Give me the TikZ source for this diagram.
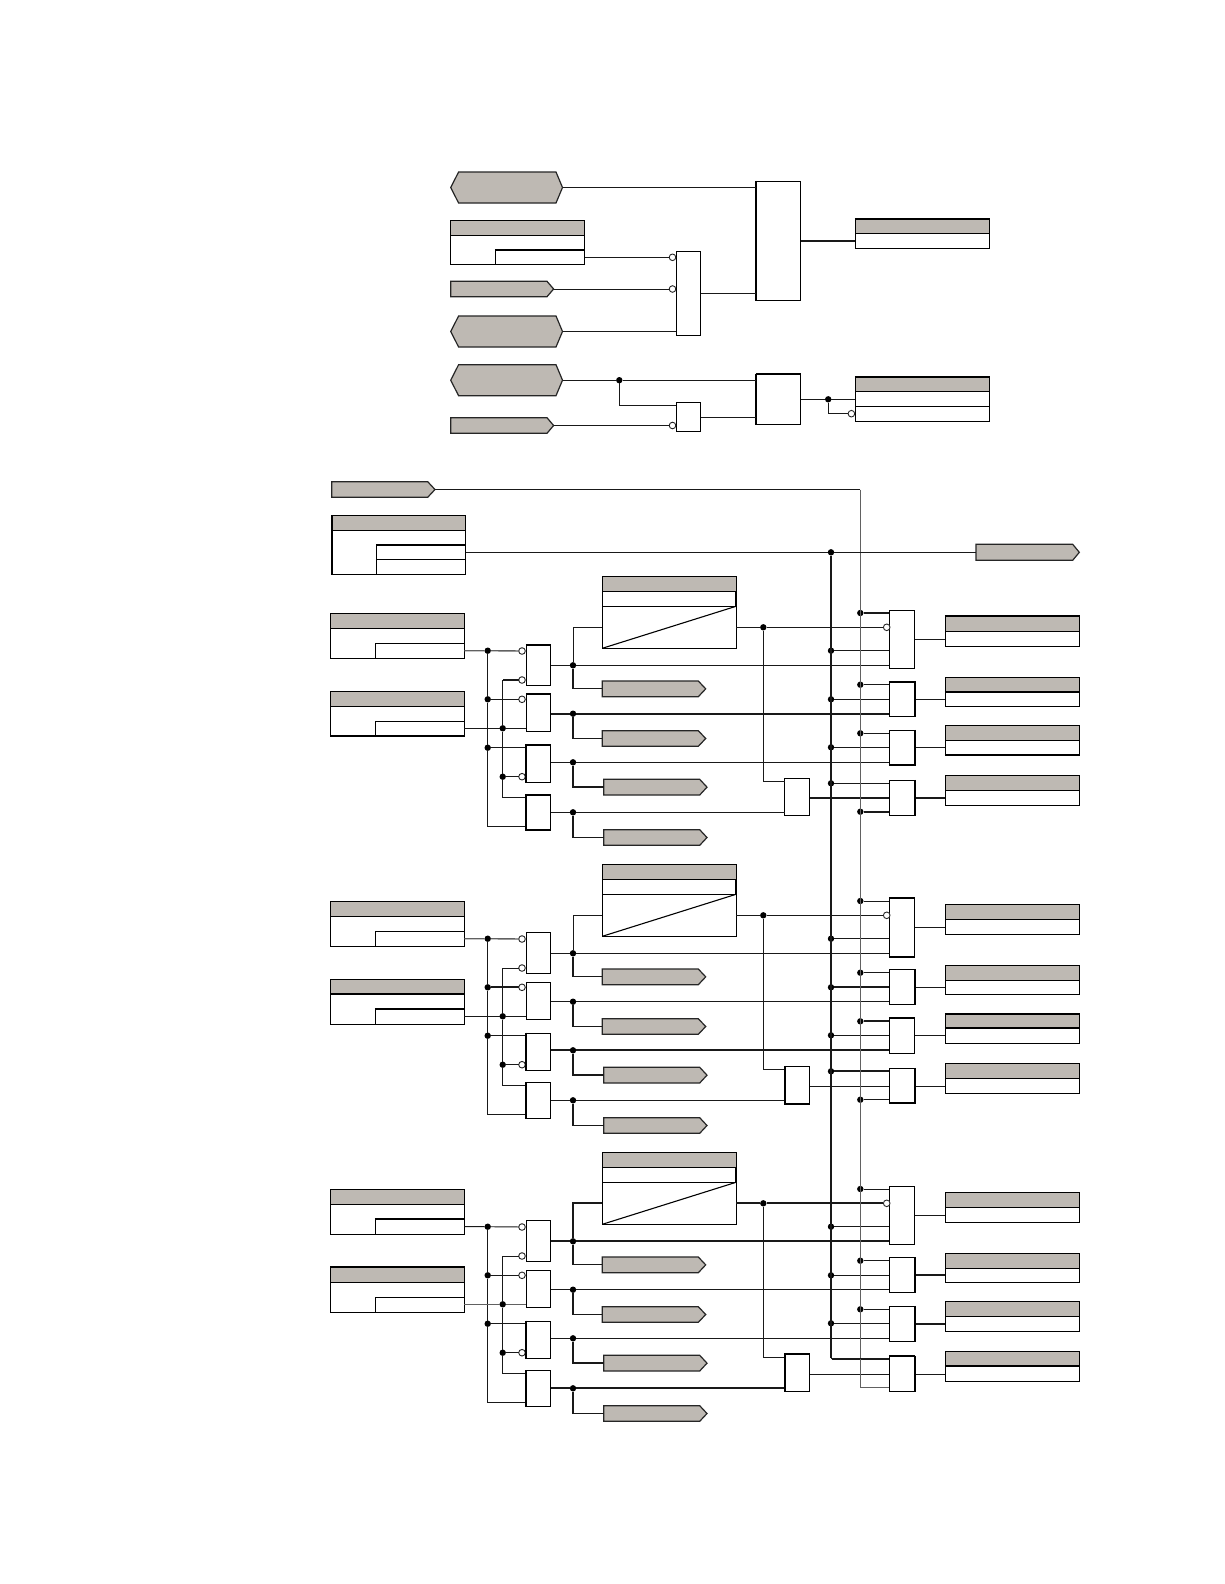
\documentclass[tikz,border=0pt]{standalone}
\usetikzlibrary{calc}
\definecolor{hdr}{HTML}{BEB9B3}
\tikzset{
  wire/.style={line width=0.95pt,draw=black!90},
  thickw/.style={line width=1.9pt,draw=black!90},
  midw/.style={line width=1.4pt,draw=black!90},
  grayw/.style={line width=1.4pt,draw=black!62},
  gbox/.style={draw=black,fill=white,line width=0.9pt,inner sep=0pt,outer sep=0pt},
  ghost/.style={inner sep=0pt,outer sep=0pt},
  edgeT/.style={line width=1.9pt,draw=black,line cap=butt,shorten <=-0.45pt,shorten >=-0.45pt},
  dot/.style={circle,fill=black,draw=none,inner sep=0pt,outer sep=0pt,minimum size=6.4pt},
  bub/.style={circle,fill=white,draw=black!85,line width=0.9pt,inner sep=0pt,outer sep=0pt,minimum size=6.6pt},
  tagshape/.style={fill=hdr,draw=black!85,line width=1.2pt,line join=miter},
  dotLast/.style={dot},
  sT1/.style={},sT2/.style={},sB2/.style={},sD1b/.style={},
  sE1/.style={},sE2/.style={},sE3/.style={},sE4/.style={},
  sV1/.style={midw},sV2/.style={midw},sV3/.style={midw},sV4/.style={midw},
  sRin/.style={},sRout/.style={},
  sO1/.style={},sO2/.style={},sO3/.style={},sO4/.style={},
  sA1/.style={},sA2/.style={},sA3/.style={},sA4/.style={},
  sN1/.style={},sN2/.style={},sN3/.style={},sN4/.style={},sMout/.style={}
}
% rectangle node from two corners
\newcommand\gatex[5]{\node[gbox,minimum width={(#4-#2)*1pt},minimum height={(#5-#3)*1pt}] (#1) at ({(#2+#4)/2},{(#3+#5)/2}) {};}
% table: grey header over white body
\newcommand\tblx[6]{%
  \node[gbox,minimum width={(#3-#2)*1pt},minimum height={(#6-#4)*1pt}] (#1) at ({(#2+#3)/2},{(#4+#6)/2}) {};
  \fill[hdr] (#2,#4) rectangle (#3,#5);
  \draw[line width=0.9pt,black] (#2,#4) rectangle (#3,#6);
  \coordinate (#1 ml) at (#2,#5);
  \coordinate (#1 mr) at (#3,#5);
  \draw[line width=0.9pt,black] (#1 ml) -- (#1 mr);}
% sub-box in lower right of an input table
\newcommand\subbox[5]{\coordinate (#1 il) at (#2,#3); \coordinate (#1 ir) at (#4,#3);
  \draw[line width=0.9pt,black] (#1 il) -- (#1 ir) -- (#4,#5) -- (#2,#5) -- cycle;}
% flag with a point on the right
\newcommand\penta[6]{%
  \node[ghost,minimum width={(#4-#2)*1pt},minimum height={(#6-#5)*1pt}] (#1) at ({(#2+#4)/2},{(#5+#6)/2}) {};
  \draw[tagshape] (#2,#5) -- (#3,#5) -- (#4,{(#5+#6)/2}) -- (#3,#6) -- (#2,#6) -- cycle;}
% flag with a point on each side
\newcommand\hexa[7]{%
  \node[ghost,minimum width={(#5-#2)*1pt},minimum height={(#7-#6)*1pt}] (#1) at ({(#2+#5)/2},{(#6+#7)/2}) {};
  \draw[tagshape] (#2,{(#6+#7)/2}) -- (#3,#6) -- (#4,#6) -- (#5,{(#6+#7)/2}) -- (#4,#7) -- (#3,#7) -- cycle;}
\newcommand\tk[2]{\draw[edgeT] (#1) -- (#2);}
\newcommand\grpblock[4]{%
\begin{scope}[shift={(0,#1)}]
\def\gp{#2}
\tikzset{#3}
% inputs
\tblx{\gp t1}{330.7}{464.3}{613.7}{628.3}{658.3}
\subbox{\gp t1}{375.3}{643.3}{464.3}{658.3}
\tblx{\gp t2}{330.7}{464.3}{691.3}{706.3}{736}
\subbox{\gp t2}{375.3}{721.3}{464.3}{736}
% first gates
\gatex{\gp g1}{526.3}{644.7}{550.7}{685.3}
\gatex{\gp g2}{526.3}{694}{550.7}{731.3}
\gatex{\gp g3}{525.7}{745}{550.7}{782.3}
\gatex{\gp g4}{525.7}{794.7}{550.7}{830.3}
% ramp block
\tblx{\gp ramp}{602.3}{736}{576.7}{591.7}{648.3}
\coordinate (\gp rl) at (602.3,606.3);
\coordinate (\gp rr) at (736,606.3);
\coordinate (\gp rq) at (736,591.7);
\coordinate (\gp rb) at (602.3,648.3);
\draw[line width=0.9pt,black] (\gp rl) -- (\gp rr);
\draw[line width=1.1pt,black] (\gp rb) -- (\gp rr);
\draw[line width=1.7pt,black] (\gp rq) -- (\gp rr);
% output flags
\penta{\gp p1}{602.3}{698.3}{705.7}{681}{696.7}
\penta{\gp p2}{602.3}{698.3}{705.7}{730.7}{746.3}
\penta{\gp p3}{603.7}{699.7}{707}{779.3}{795}
\penta{\gp p4}{603.7}{699.7}{707}{829.7}{845.3}
% right-hand gates
\gatex{\gp m}{784.7}{778.3}{809.7}{815.7}
\gatex{\gp r1}{889.3}{610.3}{914.7}{668.7}
\gatex{\gp r2}{889.3}{681.7}{914.7}{716.7}
\gatex{\gp r3}{889.3}{730.3}{914.7}{765.3}
\gatex{\gp r4}{889.3}{780.3}{914.7}{815.3}
% output tables
\tblx{\gp o1}{945.3}{1079.7}{616.3}{631.3}{646.3}
\tblx{\gp o2}{945.3}{1079.7}{677.3}{692}{706.3}
\tblx{\gp o3}{945.3}{1079.7}{725.7}{740.3}{755.3}
\tblx{\gp o4}{945.3}{1079.7}{775.3}{790.3}{805.3}
% junctions
\node[dot] (\gp d1a) at (487.7,650.7) {};
\node[dot] (\gp d1b) at (487.7,699.3) {};
\node[dot] (\gp d1c) at (487.7,747.7) {};
\node[dot] (\gp d2a) at (502.7,728.3) {};
\node[dot] (\gp d2b) at (502.7,776.7) {};
\node[bub] (\gp b1) at (522,651) {};
\node[bub] (\gp b2) at (522,680) {};
\node[bub] (\gp b3) at (522,699.3) {};
\node[bub] (\gp b4) at (522,776.7) {};
\node[bub] (\gp b5) at (886.7,627.3) {};
\coordinate (\gp c1) at (525.7,826.7);
\coordinate (\gp c2) at (525.7,797.3);
\node[dot] (\gp e1) at (573,665.3) {};
\node[dot] (\gp e2) at (573,713.7) {};
\node[dot] (\gp e3) at (573,762.3) {};
\node[dot] (\gp e4) at (573,812.3) {};
\coordinate (\gp cr) at (573,627.3);
\node[dot] (\gp f) at (763.3,627.3) {};
\coordinate (\gp fm) at (763.3,781.3);
\coordinate (\gp hm) at (809.7,798);
\node[dot] (\gp a1) at (831,650.7) {};
\node[dot] (\gp a2) at (831,699.3) {};
\node[dot] (\gp a3) at (831,747.3) {};
\node[dotLast] (\gp a4) at (831,783.3) {};
\node[dot] (\gp n1) at (860.3,613) {};
\node[dot] (\gp n2) at (860.3,684.7) {};
\node[dot] (\gp n3) at (860.3,733.3) {};
\node[dotLast] (\gp n4) at (860.3,811.7) {};
% inputs to first gates
\draw[wire,sT1] (\gp d1a -| \gp t1.east) -- (\gp d1a) -- (\gp b1);
\draw[wire] (\gp d1a) -- (\gp d1b) -- (\gp d1c) -- (\gp c1 -| \gp d1a) -- (\gp c1);
\draw[wire,sB2] (\gp b2) -- (\gp b2 -| \gp d2a);
\draw[wire] (\gp b2 -| \gp d2a) -- (\gp d2a) -- (\gp d2b) -- (\gp c2 -| \gp d2a) -- (\gp c2);
\draw[wire,sD1b] (\gp d1b) -- (\gp b3);
\draw[wire] (\gp d1c) -- (\gp d1c -| \gp g3.west);
\draw[wire,sT2] (\gp d2a -| \gp t2.east) -- (\gp d2a) -- (\gp d2a -| \gp g2.west);
\draw[wire] (\gp d2b) -- (\gp b4);
% gate outputs across to the right-hand gates
\draw[wire,sE1] (\gp e1 -| \gp g1.east) -- (\gp e1) -- (\gp e1 -| \gp r1.west);
\draw[wire,sE2] (\gp e2 -| \gp g2.east) -- (\gp e2) -- (\gp e2 -| \gp r2.west);
\draw[wire,sE3] (\gp e3 -| \gp g3.east) -- (\gp e3) -- (\gp e3 -| \gp r3.west);
\draw[wire,sE4] (\gp e4 -| \gp g4.east) -- (\gp e4) -- (\gp e4 -| \gp m.west);
% branches to ramp and flags
\draw[wire,sRin] (\gp cr -| \gp ramp.west) -- (\gp cr) -- (\gp e1);
\draw[wire,sV1] (\gp e1) -- (\gp e1 |- \gp p1.west);
\draw[wire] (\gp e1 |- \gp p1.west) -- (\gp p1.west);
\draw[wire,sV2] (\gp e2) -- (\gp e2 |- \gp p2.west) -- (\gp p2.west);
\draw[wire,sV3] (\gp e3) -- (\gp e3 |- \gp p3.west) -- (\gp p3.west);
\draw[wire,sV4] (\gp e4) -- (\gp e4 |- \gp p4.west) -- (\gp p4.west);
% ramp output
\draw[wire,sRout] (\gp f -| \gp ramp.east) -- (\gp f) -- (\gp b5);
\draw[wire] (\gp f) -- (\gp fm) -- (\gp fm -| \gp m.west);
\draw[wire,sMout] (\gp hm) -- (\gp hm -| \gp r4.west);
% bus taps
\draw[wire,sA1] (\gp a1) -- (\gp a1 -| \gp r1.west);
\draw[wire,sA2] (\gp a2) -- (\gp a2 -| \gp r2.west);
\draw[wire,sA3] (\gp a3) -- (\gp a3 -| \gp r3.west);
\draw[wire,sA4] (\gp a4) -- (\gp a4 -| \gp r4.west);
\draw[wire,sN1] (\gp n1) -- (\gp n1 -| \gp r1.west);
\draw[wire,sN2] (\gp n2) -- (\gp n2 -| \gp r2.west);
\draw[wire,sN3] (\gp n3) -- (\gp n3 -| \gp r3.west);
\draw[wire,sN4] (\gp n4) -- (\gp n4 -| \gp r4.west);
% to output tables
\draw[wire,sO1] (\gp r1.east) -- (\gp r1.east -| \gp o1.west);
\draw[wire,sO2] (\gp r2.east) -- (\gp r2.east -| \gp o2.west);
\draw[wire,sO3] (\gp r3.east) -- (\gp r3.east -| \gp o3.west);
\draw[wire,sO4] (\gp hm -| \gp r4.east) -- (\gp hm -| \gp o4.west);
#4
\end{scope}}
\begin{document}
\begin{tikzpicture}[x=1pt,y=-1pt]
\useasboundingbox (0,0) rectangle (1224,1584);
\fill[white] (0,0) rectangle (1224,1584);
% ---- upper logic
\hexa{h1}{450.7}{458.6}{556}{562.5}{172}{203}
\tblx{ta}{450.7}{584.6}{220.3}{235.3}{264.3}
\subbox{ta}{495.4}{249.7}{584.6}{264.3}
\penta{pa}{450.7}{547}{553.6}{281.3}{296.7}
\hexa{h2}{450.7}{458.6}{556}{562.5}{316}{347}
\hexa{h3}{450.7}{458.6}{556}{562.5}{364.7}{395.7}
\penta{pb}{450.7}{547}{553.6}{417.7}{433.3}
\gatex{ga}{676.4}{251.3}{700.7}{335.3}
\gatex{gb}{756}{181.3}{800.7}{300.7}
\gatex{gc}{676.4}{402.7}{700.7}{431.3}
\gatex{gd}{756}{374}{800.7}{424.3}
\tblx{tb}{855.4}{989.3}{219}{233.7}{248.3}
\tblx{tc}{855.4}{989.3}{376.7}{391.3}{421.3}
\coordinate (tcl) at (855.4,406.3);
\coordinate (tcr) at (989.3,406.3);
\draw[line width=0.9pt,black] (tcl) -- (tcr);
\tk{ta il}{ta ir}
\tk{gb.north west}{gb.south west}
\tk{gd.north west}{gd.north east}
\tk{gd.north west}{gd.south west}
\tk{tb.north west}{tb.north east}
\tk{tc.north west}{tc.north east}
\node[bub] (ba1) at (672.5,257.3) {};
\node[bub] (ba2) at (672.5,289) {};
\node[bub] (ba3) at (672.5,425.5) {};
\node[bub] (ba4) at (851.4,413.7) {};
\node[dot] (ja) at (619.3,380.2) {};
\node[dot] (jb) at (828.2,399.3) {};
\coordinate (ci) at (756,187.5);
\coordinate (cj) at (756,293.3);
\coordinate (ck) at (676.4,331.5);
\coordinate (cl) at (676.4,405.7);
\coordinate (cm) at (756,417.3);
\draw[wire] (h1.east) -- (ci);
\draw[wire] (ba1 -| ta.east) -- (ba1);
\draw[wire] (pa.east) -- (ba2);
\draw[wire] (h2.east) -- (ck);
\draw[wire] (cj -| ga.east) -- (cj);
\draw[thickw] (gb.east) -- (gb.east -| tb.west);
\draw[wire] (h3.east) -- (ja) -- (ja -| gd.west);
\draw[wire] (ja) -- (cl -| ja) -- (cl);
\draw[wire] (pb.east) -- (ba3);
\draw[wire] (cm -| gc.east) -- (cm);
\draw[wire] (jb -| gd.east) -- (jb) -- (jb -| tc.west);
\draw[wire] (jb) -- (ba4 -| jb) -- (ba4);
% ---- top of lower logic
\penta{pt}{331.7}{427.7}{435}{481.7}{497.3}
\tblx{td}{331.7}{465.7}{515.7}{530.3}{574.3}
\subbox{td}{376.7}{545}{465.7}{574.3}
\coordinate (tdl) at (376.7,559.3);
\coordinate (tdr) at (465.7,559.3);
\draw[line width=0.9pt,black] (tdl) -- (tdr);
\tk{td il}{td ir}
\tk{td.north west}{td.south west}
\penta{po}{976}{1072.7}{1079.3}{544.3}{560.3}
\node[dot] (at) at (831,552.3) {};
\coordinate (ntop) at (860.3,489.5);
\coordinate (nend) at (889.3,1387.3);
\coordinate (aend) at (889.3,1358.3);
% ---- three repeated blocks
\grpblock{0}{A}{sT1/.style={grayw},sB2/.style={thickw},sE2/.style={thickw},sN1/.style={thickw},sN4/.style={thickw},sMout/.style={thickw},sO4/.style={thickw}}{%
  \tk{Ag1.north west}{Ag1.north east}\tk{Ag2.north west}{Ag2.north east}
  \tk{Ag3.north west}{Ag3.north east}\tk{Ag3.north west}{Ag3.south west}
  \tk{Ag4.north west}{Ag4.south west}\tk{Ag4.north west}{Ag4.north east}\tk{Ag4.south west}{Ag4.south east}
  \tk{Ar2.north west}{Ar2.north east}\tk{Ar2.north east}{Ar2.south east}
  \tk{Ar3.north east}{Ar3.south east}\tk{Ar3.south west}{Ar3.south east}
  \tk{Ar4.north east}{Ar4.south east}
  \tk{Ao1.north west}{Ao1.north east}\tk{Ao2 ml}{Ao2 mr}\tk{Ao3.south west}{Ao3.south east}
  \tk{At2.south west}{At2.south east}}
\grpblock{288}{B}{sT1/.style={grayw},sD1b/.style={thickw},sE3/.style={thickw},sV3/.style={thickw},sO1/.style={thickw},sA2/.style={thickw},sN3/.style={thickw},sA4/.style={thickw}}{%
  \tk{Bg3.north west}{Bg3.south west}\tk{Bg4.north west}{Bg4.south west}
  \tk{Br1.north west}{Br1.north east}\tk{Br1.south west}{Br1.south east}
  \tk{Br2.north east}{Br2.south east}\tk{Br3.north west}{Br3.north east}
  \tk{Br4.north east}{Br4.south east}\tk{Br4.south west}{Br4.south east}
  \tk{Bm.north west}{Bm.south west}\tk{Bm.south west}{Bm.south east}
  \tk{Bo3.north west}{Bo3.north east}\tk{Bo3 ml}{Bo3 mr}
  \tk{Bt2 il}{Bt2 ir}\tk{Bt2 ml}{Bt2 mr}}
\grpblock{576}{C}{dotLast/.style={ghost},sRin/.style={thickw},sRout/.style={thickw},sE1/.style={thickw},sV1/.style={thickw},sV2/.style={thickw},sV4/.style={thickw},sE4/.style={thickw},sO2/.style={thickw},sO3/.style={thickw},sT2/.style={grayw}}{%
  \tk{Cg3.north west}{Cg3.south west}\tk{Cg4.north west}{Cg4.south west}
  \tk{Cr2.north east}{Cr2.south east}\tk{Cr3.north east}{Cr3.south east}
  \tk{Cr4.north west}{Cr4.north east}\tk{Cr4.north east}{Cr4.south east}
  \tk{Cm.north west}{Cm.north east}\tk{Cm.north west}{Cm.south west}
  \tk{Co4 ml}{Co4 mr}\tk{Ct1 il}{Ct1 ir}\tk{Ct2.north west}{Ct2.north east}}
% ---- long buses
\draw[grayw] (ntop) -- (ntop |- nend) -- (nend);
\draw[thickw] (at) -- (at |- aend);
\draw[wire] (at |- aend) -- (aend);
\draw[wire] (pt.east) -- (ntop);
\draw[wire] (at -| td.east) -- (at) -- (po.west);
\end{tikzpicture}
\end{document}
